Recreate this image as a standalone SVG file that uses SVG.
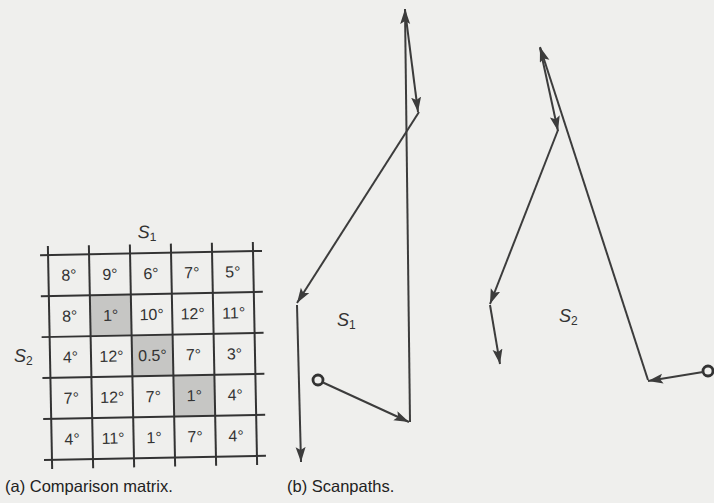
<svg xmlns="http://www.w3.org/2000/svg" width="714" height="503" viewBox="0 0 714 503">
  <defs>
    <style>
      .bg { fill: #efefed; }
      .grid line { stroke: #333; stroke-width: 2; }
      .shade { fill: #c6c6c4; }
      .num { font-family: "Liberation Sans", Arial, sans-serif; font-size: 16px; fill: #333; text-anchor: middle; }
      .lab { font-family: "Liberation Sans", Arial, sans-serif; font-size: 18px; font-style: italic; fill: #333; }
      .sub { font-size: 12px; font-style: normal; }
      .cap { font-family: "Liberation Sans", Arial, sans-serif; font-size: 16.5px; fill: #222; }
      .path line { stroke: #3c3c3c; stroke-width: 2; marker-end: url(#ah); }
      .start { fill: none; stroke: #333; stroke-width: 2.8; }
    </style>
    <marker id="ah" markerUnits="userSpaceOnUse" markerWidth="16" markerHeight="12" refX="15" refY="5" orient="auto">
      <path d="M0,0 L15,5 L0,10 L3,5 z" fill="#3c3c3c"/>
    </marker>
  </defs>
  <rect class="bg" x="0" y="0" width="714" height="503"/>

  <g id="matrix" transform="rotate(-1.1 152.5 355.5)">
    <g id="shading">
      <rect class="shade" x="91" y="294" width="41" height="41"/>
      <rect class="shade" x="132" y="335" width="41" height="41"/>
      <rect class="shade" x="173" y="376" width="41" height="41"/>
    </g>
    <g class="grid" id="grid">
      <line x1="42" y1="253" x2="264" y2="253"/>
      <line x1="42" y1="294" x2="264" y2="294"/>
      <line x1="42" y1="335" x2="264" y2="335"/>
      <line x1="42" y1="376" x2="264" y2="376"/>
      <line x1="42" y1="417" x2="264" y2="417"/>
      <line x1="42" y1="458" x2="264" y2="458"/>
      <line x1="50" y1="244" x2="50" y2="467"/>
      <line x1="91" y1="244" x2="91" y2="467"/>
      <line x1="132" y1="244" x2="132" y2="467"/>
      <line x1="173" y1="244" x2="173" y2="467"/>
      <line x1="214" y1="244" x2="214" y2="467"/>
      <line x1="255" y1="244" x2="255" y2="467"/>
    </g>
    <g id="values" class="num">
      <text x="70.5" y="279">8°</text><text x="111.5" y="279">9°</text><text x="152.5" y="279">6°</text><text x="193.5" y="279">7°</text><text x="234.5" y="279">5°</text>
      <text x="70.5" y="320">8°</text><text x="111.5" y="320">1°</text><text x="152.5" y="320">10°</text><text x="193.5" y="320">12°</text><text x="234.5" y="320">11°</text>
      <text x="70.5" y="361">4°</text><text x="111.5" y="361">12°</text><text x="152.5" y="361">0.5°</text><text x="193.5" y="361">7°</text><text x="234.5" y="361">3°</text>
      <text x="70.5" y="402">7°</text><text x="111.5" y="402">12°</text><text x="152.5" y="402">7°</text><text x="193.5" y="402">1°</text><text x="234.5" y="402">4°</text>
      <text x="70.5" y="443">4°</text><text x="111.5" y="443">11°</text><text x="152.5" y="443">1°</text><text x="193.5" y="443">7°</text><text x="234.5" y="443">4°</text>
    </g>
    <text class="lab" x="140" y="238">S<tspan class="sub" dy="3">1</tspan></text>
  </g>
  <text class="lab" x="14" y="362">S<tspan class="sub" dy="3">2</tspan></text>

  <g id="connectors">
    <g id="scanpath-s1" class="path">
      <circle class="start" cx="318" cy="380" r="5"/>
      <line x1="323" y1="382.5" x2="409" y2="422"/>
      <line x1="410" y1="422" x2="405" y2="9"/>
      <line x1="405" y1="10" x2="418" y2="112"/>
      <line x1="419" y1="112" x2="297" y2="303"/>
      <line x1="297" y1="305" x2="301" y2="462"/>
    </g>
    <g id="scanpath-s2" class="path">
      <circle class="start" cx="708" cy="371" r="5"/>
      <line x1="703" y1="372" x2="648" y2="381"/>
      <line x1="648" y1="380" x2="540" y2="47"/>
      <line x1="540" y1="48" x2="558" y2="131"/>
      <line x1="558" y1="130" x2="490" y2="304"/>
      <line x1="490" y1="305" x2="500" y2="364"/>
    </g>
  </g>

  <text class="lab" x="337" y="326">S<tspan class="sub" dy="3">1</tspan></text>
  <text class="lab" x="559" y="322">S<tspan class="sub" dy="3">2</tspan></text>

  <text class="cap" x="5" y="492">(a) Comparison matrix.</text>
  <text class="cap" x="287" y="492">(b) Scanpaths.</text>
</svg>
